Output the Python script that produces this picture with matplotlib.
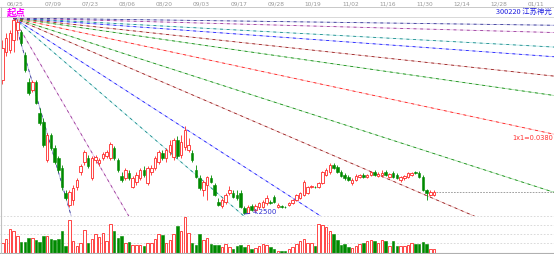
import matplotlib
matplotlib.use('Agg')
import matplotlib.pyplot as plt
import numpy as np
from matplotlib.lines import Line2D
from matplotlib.transforms import blended_transform_factory

plt.rcParams['font.family'] = ['Noto Sans CJK SC', 'DejaVu Sans']

# ---------------- data ----------------
opens = [10.62, 11.95, 12.04, 12.52, 12.99, 12.90, 11.80, 10.52, 10.14, 10.52,
         9.05, 8.62, 6.82, 8.00, 7.38, 6.91, 6.44, 5.25, 4.68, 4.92,
         5.53, 6.25, 6.72, 6.91, 5.96, 6.82, 6.67, 6.91, 7.01, 6.91,
         7.38, 6.82, 6.06, 5.96, 6.20, 5.53, 5.77, 5.96, 6.34, 5.72,
         6.25, 6.44, 6.72, 7.15, 6.91, 7.20, 6.96, 7.77, 7.05, 7.43,
         7.29, 7.15, 6.34, 5.96, 5.39, 5.63, 5.96, 5.63, 4.82, 4.63,
         4.82, 5.25, 5.25, 5.15, 5.25, 4.54, 4.30, 4.63, 4.44, 4.58,
         4.58, 4.77, 4.82, 5.06, 4.58, 4.63, 4.58, 4.68, 4.77, 4.92,
         5.01, 5.15, 5.25, 5.53, 5.53, 5.53, 5.72, 6.10, 6.25, 6.58,
         6.48, 6.25, 6.10, 6.01, 5.72, 5.87, 6.01, 6.10, 6.01, 6.10,
         6.25, 6.06, 6.10, 6.25, 6.01, 6.20, 6.10, 5.87, 5.96, 6.01,
         6.10, 6.25, 6.20, 6.01, 5.39, 5.15, 5.15]
highs = [12.52, 12.85, 12.99, 13.56, 13.51, 12.99, 11.95, 10.71, 10.62, 10.62,
         9.29, 8.81, 8.10, 8.10, 7.53, 7.01, 6.58, 5.39, 5.39, 5.63,
         5.96, 6.63, 7.29, 7.05, 7.01, 7.05, 6.91, 7.20, 7.29, 7.67,
         7.48, 6.91, 6.25, 6.44, 6.34, 6.06, 6.25, 6.44, 6.53, 6.53,
         6.58, 7.01, 7.29, 7.29, 7.38, 7.77, 7.86, 7.96, 8.00, 8.43,
         7.86, 7.29, 6.58, 6.10, 5.87, 6.06, 6.10, 5.72, 5.01, 5.01,
         5.25, 5.58, 5.39, 5.39, 5.39, 4.63, 4.68, 4.73, 4.73, 4.82,
         4.92, 5.15, 4.92, 5.15, 4.77, 4.68, 4.63, 4.82, 4.96, 5.20,
         5.30, 5.87, 5.58, 5.63, 5.58, 5.77, 6.29, 6.44, 6.67, 6.67,
         6.58, 6.34, 6.20, 6.10, 5.96, 6.15, 6.15, 6.20, 6.15, 6.29,
         6.34, 6.25, 6.34, 6.34, 6.20, 6.29, 6.20, 6.06, 6.10, 6.25,
         6.25, 6.29, 6.29, 6.10, 5.44, 5.39, 5.39]
lows = [10.42, 11.76, 11.90, 11.95, 12.52, 12.28, 11.00, 9.90, 10.05, 9.48,
        8.48, 7.43, 6.72, 7.29, 6.63, 6.25, 5.39, 4.92, 4.58, 4.68,
        5.39, 6.10, 6.58, 6.44, 5.87, 6.67, 6.53, 6.82, 6.91, 6.82,
        6.82, 6.25, 5.77, 5.87, 5.87, 5.49, 5.63, 5.87, 6.01, 5.63,
        6.10, 6.34, 6.63, 6.82, 6.72, 7.05, 6.82, 6.91, 6.91, 7.29,
        7.20, 6.72, 5.96, 5.39, 5.11, 4.92, 5.72, 5.11, 4.63, 4.54,
        4.73, 5.15, 5.01, 4.92, 4.54, 4.25, 4.28, 4.39, 4.35, 4.49,
        4.54, 4.68, 4.73, 4.77, 4.54, 4.54, 4.54, 4.63, 4.73, 4.87,
        4.96, 5.11, 5.20, 5.49, 5.49, 5.49, 5.68, 6.06, 6.15, 6.39,
        6.20, 6.01, 5.87, 5.82, 5.63, 5.82, 5.96, 5.96, 5.96, 6.06,
        6.06, 6.01, 6.01, 6.06, 5.96, 5.96, 5.91, 5.77, 5.87, 5.96,
        6.06, 6.15, 5.96, 5.34, 4.92, 5.11, 5.11]
closes = [12.14, 12.61, 12.85, 13.47, 13.37, 12.37, 11.09, 10.00, 10.52, 9.52,
          8.57, 7.53, 8.00, 7.38, 6.72, 6.34, 5.53, 5.01, 5.30, 5.49,
          5.87, 6.53, 7.20, 6.53, 6.91, 6.96, 6.82, 7.10, 7.20, 7.58,
          6.91, 6.34, 5.87, 6.34, 5.96, 5.96, 6.10, 6.34, 6.10, 6.44,
          6.44, 6.91, 7.20, 6.91, 7.29, 7.53, 7.77, 7.01, 7.67, 8.24,
          7.53, 6.82, 6.01, 5.49, 5.77, 6.01, 5.77, 5.15, 4.68, 4.92,
          5.15, 5.39, 5.06, 5.01, 4.58, 4.30, 4.58, 4.44, 4.63, 4.77,
          4.82, 5.01, 4.77, 4.82, 4.68, 4.58, 4.56, 4.77, 4.92, 5.15,
          5.25, 5.77, 5.53, 5.58, 5.51, 5.72, 6.25, 6.34, 6.58, 6.44,
          6.25, 6.06, 5.96, 5.87, 5.87, 6.06, 6.10, 6.01, 6.10, 6.25,
          6.10, 6.15, 6.20, 6.10, 6.15, 6.01, 5.96, 6.01, 6.06, 6.20,
          6.20, 6.20, 6.01, 5.39, 5.25, 5.30, 5.30]
volumes = [10, 14, 24, 22, 17, 11, 11, 15, 15, 13,
           11, 17, 17, 14, 13, 14, 22, 7, 33, 12,
           7, 10, 23, 10, 14, 19, 16, 20, 12, 29,
           22, 15, 17, 10, 11, 8, 8, 8, 7, 10,
           10, 14, 19, 18, 10, 13, 19, 27, 22, 36,
           20, 10, 8, 19, 13, 15, 9, 8, 8, 6,
           9, 6, 4, 7, 8, 6, 8, 4, 5, 7,
           9, 8, 6, 4, 2, 2, 2, 4, 6, 9,
           12, 14, 10, 10, 7, 29, 28, 26, 22, 19,
           13, 8, 9, 6, 5, 7, 9, 10, 12, 13,
           12, 10, 13, 12, 7, 12, 7, 7, 7, 8,
           10, 9, 9, 11, 9, 4, 4]
date_labels = ["06/25", "07/09", "07/23", "08/06", "08/20", "09/03", "09/17",
               "09/28", "10/19", "11/02", "11/16", "11/30", "12/14", "12/28", "01/11"]
fan_ratios = [16, 8, 4, 3, 2, 1.5, 1, 2/3, 1/2, 1/3, 1/4, 1/8, 1/16]
unit_slope = 0.038
origin_bar = 3
low_label = "4.2500"
slope_label = "1x1=0.0380"
stock_title = "300220 江苏神光"

# ---------------- layout ----------------
W, H = 554, 254
fig = plt.figure(figsize=(W / 100, H / 100), dpi=100)
fig.patch.set_facecolor('white')


def px_rect(x0, y0, x1, y1):
    return [x0 / W, 1 - y1 / H, (x1 - x0) / W, (y1 - y0) / H]


ax = fig.add_axes(px_rect(0, 17, 554, 216))
axv = fig.add_axes(px_rect(0, 216, 554, 252.5))
step = 3.72
x0pix = 2.5
xlim = (-x0pix / step, (W - x0pix) / step)
for a in (ax, axv):
    a.set_xlim(*xlim)
    a.set_axis_off()
ax.set_ylim(4.155, 13.6075)
axv.set_ylim(0, 36.5)

n = len(closes)
xs = np.arange(n)
o = np.array(opens); h = np.array(highs); l = np.array(lows); c = np.array(closes)
up = c >= o
RED = '#ff2828'
GREEN = '#008a00'
bw = 0.68

# fan lines
fan_colors = {
    16: ('#3a3a98', '#b4b4e0'), 8: ('#9a3a9a', '#e8c0e8'), 4: ('#1a8a8a', '#b4e8e8'),
    3: ('#2020ff', '#b4b4ff'), 2: ('#982020', '#e8b4b4'), 1.5: ('#1a901a', '#a4dca4'),
    1: ('#ff2020', '#ffb4b4'),
}
origin_price = highs[origin_bar]
fx = np.array([origin_bar, xlim[1] + 2])
for r in fan_ratios:
    key = r if r >= 1 else 1 / r
    key = min(fan_colors.keys(), key=lambda k: abs(k - key))
    dark, light = fan_colors[key]
    fy = origin_price - unit_slope * r * (fx - origin_bar)
    ax.plot(fx, fy, color=light, lw=0.6, zorder=1, solid_capstyle='butt')
    ax.plot(fx, fy, color=dark, lw=0.6, dashes=(3.5, 4.5), zorder=1.1)

# candles
for i in range(n):
    col = RED if up[i] else GREEN
    ax.vlines(xs[i], l[i], h[i], color=col, lw=0.6, zorder=2)
    lo, hi = min(o[i], c[i]), max(o[i], c[i])
    hgt = max(hi - lo, 0.02)
    if up[i]:
        ax.bar(xs[i], hgt, bottom=lo, width=bw, facecolor='white', edgecolor=col,
               linewidth=0.6, zorder=3)
    else:
        ax.bar(xs[i], hgt, bottom=lo, width=bw, facecolor=col, edgecolor=col,
               linewidth=0.4, zorder=3)

# last close dotted line
ax.plot([xs[-1] + 0.5, xlim[1]], [c[-1], c[-1]], color='#909090', lw=0.6,
        dashes=(2, 1.5), zorder=1.5)

# volume bars
vols = np.array(volumes)
axv.bar(xs[up], vols[up], width=bw, facecolor='white', edgecolor=RED, linewidth=0.6, zorder=3)
axv.bar(xs[~up], vols[~up], width=bw, facecolor=GREEN, edgecolor=GREEN, linewidth=0.4, zorder=3)
for frac in (0.25, 0.5, 0.75, 1.0):
    axv.axhline(36.5 * frac, color='#d4d4d4', lw=0.6, dashes=(2, 2), zorder=1)

# frame lines
fig.add_artist(Line2D([0, 1], [1 - 7 / H, 1 - 7 / H], color='#c8c8c8', lw=0.7))
fig.add_artist(Line2D([0, 1], [1 - 17 / H, 1 - 17 / H], color='#d8d8d8', lw=0.7))
fig.add_artist(Line2D([0, 1], [1 - 252.8 / H, 1 - 252.8 / H], color='#b0b0b0', lw=0.8))
fig.add_artist(Line2D([0.8 / W, 0.8 / W], [1 - 252.8 / H, 1 - 7 / H], color='#c0c0c0', lw=0.8))

# date labels on top
trans = blended_transform_factory(ax.transData, fig.transFigure)
for k, lab in enumerate(date_labels):
    ax.text(origin_bar + 0.5 + 10 * k, 1 - 3.6 / H, lab, transform=trans, fontsize=4.2,
            color='#999999', ha='center', va='center', family='DejaVu Sans', clip_on=False)

# texts
fig.text(16.5 / W, 1 - 12.5 / H, "起点", color='#ff00ff', fontsize=6.8,
         ha='center', va='center', fontweight='bold')
fig.text(552 / W, 1 - 11.5 / H, stock_title, color='#2020e0', fontsize=5.3,
         ha='right', va='center')

low_i = int(np.argmin(l))
ax.annotate(low_label, xy=(low_i, l[low_i]), xytext=(6, 1.5), textcoords='offset points',
            color='#3030d0', fontsize=5, ha='left', va='center', family='DejaVu Sans',
            arrowprops=dict(arrowstyle='-', color='#3030d0', lw=0.6, shrinkA=0, shrinkB=0),
            zorder=5)

x_end = xlim[1] - 0.2
y_end = origin_price - unit_slope * (x_end - origin_bar)
ax.text(x_end, y_end - 0.05, slope_label, color='#ff3030', fontsize=4.8, ha='right',
        va='top', family='DejaVu Sans', zorder=5)

fig.savefig('out.png', dpi=100, facecolor='white')
